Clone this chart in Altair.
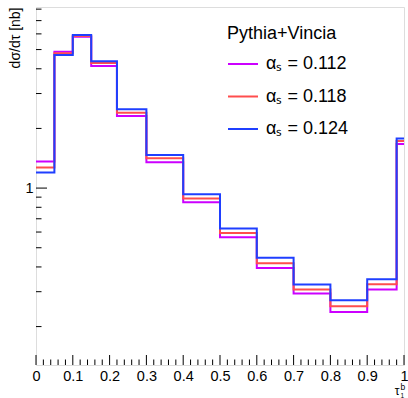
import altair as alt
import pandas as pd

# ---- data ----
edges = [0.0, 0.05, 0.1, 0.15, 0.22, 0.3, 0.4, 0.5, 0.6, 0.7, 0.8, 0.9, 0.98, 1.0]
series = ["αₛ = 0.112", "αₛ = 0.118", "αₛ = 0.124"]
vals_112 = [1.36, 4.88, 5.80, 4.13, 2.31, 1.349, 0.847, 0.564, 0.395, 0.294, 0.237, 0.308, 1.67]
vals_118 = [1.27, 4.79, 5.86, 4.28, 2.40, 1.413, 0.887, 0.594, 0.417, 0.308, 0.2535, 0.327, 1.727]
vals_124 = [1.20, 4.70, 5.93, 4.36, 2.50, 1.468, 0.930, 0.626, 0.445, 0.326, 0.272, 0.347, 1.78]
colors = ["#cc00ff", "#ff4d4d", "#1f3fff"]
legend_title = "Pythia+Vincia"
y_title = "dσ/dτ [nb]"

x_major = [0.0, 0.1, 0.2, 0.3, 0.4, 0.5, 0.6, 0.7, 0.8, 0.9, 1.0]
x_minor = [round(0.02 * i, 2) for i in range(51) if i % 5 != 0]
y_major = [1.0]
y_minor = [0.2, 0.3, 0.4, 0.5, 0.6, 0.7, 0.8, 0.9, 2, 3, 4, 5, 6, 7, 8]
y_domain = [0.128, 8.2]

FONT = "Liberation Sans"

rows = []
for name, vals in zip(series, [vals_112, vals_118, vals_124]):
    ys = vals + [vals[-1]]
    for i, (x, y) in enumerate(zip(edges, ys)):
        rows.append({"x": x, "v": y, "s": name, "o": i})
hist = pd.DataFrame(rows)

xs = alt.Scale(domain=[0, 1], nice=False, zero=False)
ys = alt.Scale(type="log", domain=y_domain, nice=False)

x_axis = alt.Axis(values=x_major,
                  labelExpr="datum.value == 0 ? '0' : datum.value == 1 ? '1' : format(datum.value, '.1f')",
                  ticks=False, domain=False, grid=False, labelFontSize=14.5, labelFont=FONT,
                  labelColor="black", labelPadding=4, labelOverlap=False, labelFlush=False,
                  labelBound=False, title=None)
y_axis = alt.Axis(values=y_major, labelExpr="'1'", ticks=False, domain=False, grid=False,
                  labelFontSize=14.5, labelFont=FONT, labelColor="black", labelPadding=3,
                  labelOverlap=False, labelFlush=False,
                  title=y_title, titleFont=FONT, titleFontSize=14, titleFontWeight="normal",
                  titleColor="black", titleAngle=270, titleAlign="right", titleX=-21, titleY=0,
                  titleBaseline="middle")

lines = alt.Chart(hist).mark_line(interpolate="step-after", strokeWidth=2, clip=True).encode(
    x=alt.X("x:Q", scale=xs, axis=x_axis),
    y=alt.Y("v:Q", scale=ys, axis=y_axis),
    color=alt.Color("s:N", scale=alt.Scale(domain=series, range=colors),
                    legend=alt.Legend(orient="none", legendX=191, legendY=18, title=legend_title,
                                      titleFont=FONT, titleFontSize=18, titleFontWeight="normal",
                                      titleColor="black", titlePadding=5, labelFont=FONT,
                                      labelFontSize=18, labelColor="black", labelOffset=7,
                                      symbolType="stroke", symbolSize=900, symbolStrokeWidth=2,
                                      rowPadding=7.5, padding=0)),
    order="o:Q",
)

xmaj = alt.Chart(pd.DataFrame({"t": x_major})).mark_rule(color="black", strokeWidth=1).encode(
    x=alt.X("t:Q", scale=xs, axis=x_axis), y=alt.value(358), y2=alt.value(348))
xmin = alt.Chart(pd.DataFrame({"t": x_minor})).mark_rule(color="black", strokeWidth=1).encode(
    x=alt.X("t:Q", scale=xs, axis=x_axis), y=alt.value(358), y2=alt.value(352.5))
ymaj = alt.Chart(pd.DataFrame({"t": y_major})).mark_rule(color="black", strokeWidth=1).encode(
    y=alt.Y("t:Q", scale=ys, axis=y_axis), x=alt.value(0), x2=alt.value(11))
ymin = alt.Chart(pd.DataFrame({"t": y_minor})).mark_rule(color="black", strokeWidth=1).encode(
    y=alt.Y("t:Q", scale=ys, axis=y_axis), x=alt.value(0), x2=alt.value(5.5))

one = pd.DataFrame({"a": [0]})
tau = alt.Chart(one).mark_text(text="τ", font=FONT, fontSize=12, align="center", baseline="alphabetic").encode(
    x=alt.value(361), y=alt.value(388))
sup = alt.Chart(one).mark_text(text="b", font=FONT, fontSize=8.5, align="left", baseline="alphabetic").encode(
    x=alt.value(364.5), y=alt.value(383))
sub = alt.Chart(one).mark_text(text="1", font=FONT, fontSize=6.5, align="left", baseline="alphabetic").encode(
    x=alt.value(364.5), y=alt.value(390.5))

chart = alt.layer(lines, xmaj, xmin, ymaj, ymin, tau, sup, sub).properties(
    width=368, height=358,
    autosize=alt.AutoSizeParams(type="none"),
    padding={"left": 36, "top": 7, "right": 4, "bottom": 33},
).configure_view(stroke="black", strokeWidth=1).configure_axis(labelOverlap=False).configure(background="white")

chart.save("out.html", embed_options={"renderer": "svg", "actions": False})
